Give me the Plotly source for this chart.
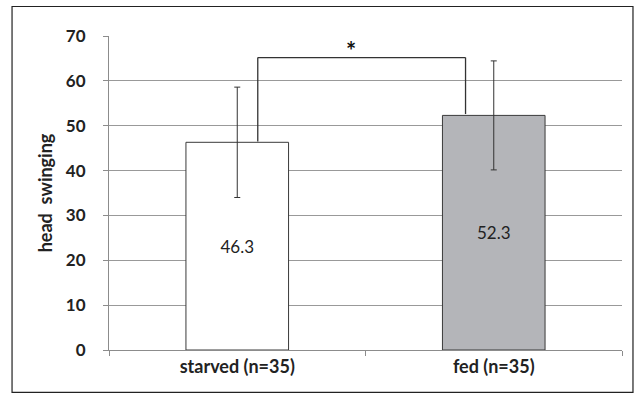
import plotly.graph_objects as go

categories = ["starved (n=35)", "fed (n=35)"]
means = [46.3, 52.3]
errors = [12.3, 12.15]
bar_colors = ["#ffffff", "#b4b5b9"]
value_labels = ["46.3", "52.3"]
y_ticks = [0, 10, 20, 30, 40, 50, 60, 70]
bracket_top = 65.2
bracket_ends = [0.08, 0.89]   # category-index positions of bracket legs
bracket_leg_bottoms = [46.5, 52.6]
sig_label = "*"

FONT = "Lato, Carlito, Calibri, sans-serif"
W, H = 635, 394

fig = go.Figure()
fig.add_trace(go.Bar(
    x=categories, y=means,
    width=0.4,
    marker=dict(color=bar_colors, line=dict(color="#3a3a3a", width=1)),
    error_y=dict(type="data", array=errors, visible=True, color="#333333",
                 thickness=1, width=3),
    text=value_labels, textposition="inside", insidetextanchor="middle",
    textfont=dict(family=FONT, size=17, color="#222222"),
    showlegend=False,
))

# significance bracket
xs = [bracket_ends[0], bracket_ends[0], bracket_ends[1], bracket_ends[1]]
ys = [bracket_leg_bottoms[0], bracket_top, bracket_top, bracket_leg_bottoms[1]]
for i in range(3):
    fig.add_shape(type="line", xref="x", yref="y",
                  x0=xs[i], y0=ys[i], x1=xs[i + 1], y1=ys[i + 1],
                  line=dict(color="#333333", width=1.3))
fig.add_annotation(x=(bracket_ends[0] + bracket_ends[1]) / 2 - 0.04, y=bracket_top,
                   xref="x", yref="y", text=sig_label, showarrow=False,
                   yanchor="bottom", yshift=-9,
                   font=dict(family=FONT, size=24, color="#111111", weight="bold"))

# outer frame
fig.add_shape(type="rect", xref="paper", yref="paper",
              x0=-0.189, x1=1.0214, y0=-0.135, y1=1.094,
              line=dict(color="#222222", width=1.2), layer="below")

fig.update_layout(
    width=W, height=H,
    margin=dict(l=109, r=13, t=36, b=44, autoexpand=False),
    paper_bgcolor="white", plot_bgcolor="white",
    bargap=0.6,
    font=dict(family=FONT),
    xaxis=dict(
        type="category",
        showline=True, linecolor="#8c8c8c", linewidth=1,
        ticks="outside", tickson="boundaries", ticklen=5, tickcolor="#8c8c8c",
        tickfont=dict(family=FONT, size=18, color="#222222", weight="bold"),
        range=[-0.5, 1.5],
    ),
    yaxis=dict(
        range=[0, 70], tickvals=y_ticks,
        showgrid=True, gridcolor="#999999", gridwidth=1,
        showline=True, linecolor="#8c8c8c", linewidth=1,
        ticks="outside", ticklen=5, tickcolor="#8c8c8c",
        ticklabelstandoff=14,
        zeroline=False,
        tickfont=dict(family=FONT, size=17, color="#222222", weight="bold"),
        title=dict(text="head  swinging", standoff=8,
                   font=dict(family=FONT, size=18, color="#222222", weight="bold")),
    ),
)

post = ("document.body.style.margin='0';document.body.style.padding='0';"
        "document.body.style.overflow='hidden';"
        "var gd=document.getElementById('{plot_id}');"
        "Plotly.relayout(gd,{width:%d,height:%d});" % (W, H))
fig.write_html("out.html", post_script=post,
               config={"displayModeBar": False, "staticPlot": True})
